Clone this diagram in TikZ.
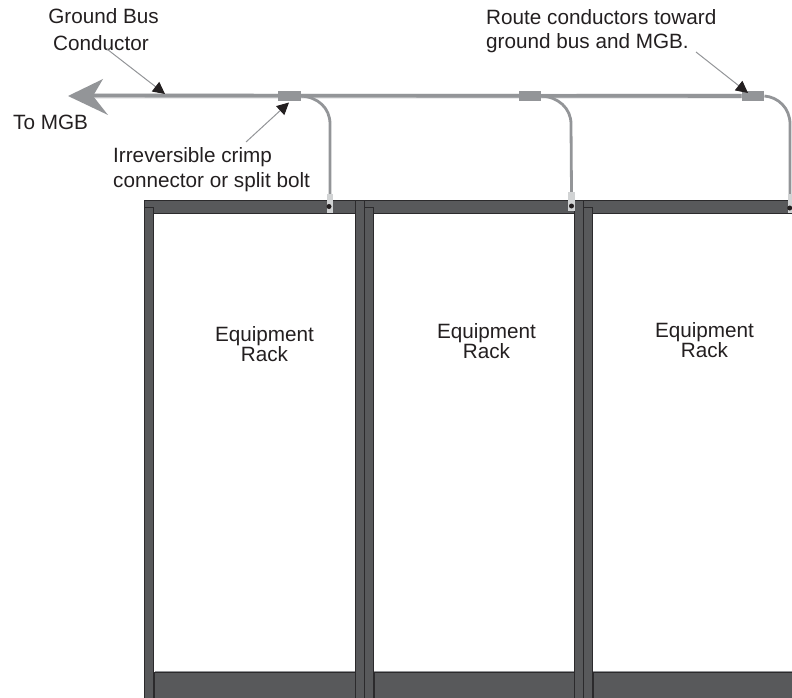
\documentclass[tikz,border=0pt]{standalone}
\usepackage{fontspec}
\setmainfont{Liberation Sans}
\usetikzlibrary{arrows.meta}
\definecolor{steel}{HTML}{58595B}
\definecolor{edge}{HTML}{2B2A2C}
\definecolor{wire}{HTML}{939598}
\definecolor{wirelight}{HTML}{C9CACC}
\definecolor{lugc}{HTML}{D1D3D4}
\definecolor{ink}{HTML}{231F20}
\tikzset{
  member/.style={draw=edge,fill=steel,line width=.7pt},
  lbl/.style={text=ink,inner sep=0pt,font=\fontsize{20.7}{24.5}\selectfont},
  rackl/.style={text=ink,inner sep=0pt,align=center,font=\fontsize{20.7}{20.5}\selectfont},
  clamp/.style={fill=wire,draw=none,minimum width=22.5pt,minimum height=10.5pt,inner sep=0pt},
  lug/.style={fill=lugc,draw=none,inner sep=0pt},
  bolt/.style={circle,fill=ink,draw=none,minimum size=5pt,inner sep=0pt},
  leader/.style={draw=wire,line width=1pt,-{Triangle[length=12pt,width=12pt,color=ink]}},
  under/.style={draw=wirelight,line width=4.6pt,line cap=butt},
  branch/.style={draw=wire,line width=2.8pt,line cap=butt}
}
\begin{document}
\begin{tikzpicture}[x=1pt,y=-1pt]
\useasboundingbox (0,0) rectangle (792,698);
% rack members
\foreach \a/\b in {144/355,364/574,583/792}{
  \draw[member] (\a,200.5) rectangle (\b,213);
}
\foreach \a/\t in {144/207,355/200.5,364/207,574/200.5,583/207}{
  \draw[member] (\a,\t) rectangle ({\a+9},698);
}
\foreach \a/\b in {154.5/355,374/574,593/792}{
  \draw[draw=edge,fill=steel,line width=.7pt] (\a,672.5) rectangle (\b,698);
  \draw[draw=wire,line width=.7pt] (\a,671.8) -- (\b,671.8);
}
% nodes on the bus
\coordinate (tip) at (68,96);
\node[clamp] (c1) at (289.5,96) {};
\node[clamp] (c2) at (530,96) {};
\node[clamp] (c3) at (753,96) {};
% lugs
\node[lug,minimum width=6pt,minimum height=19pt] (l1) at (330,203.5) {};
\node[lug,minimum width=7pt,minimum height=19pt] (l2) at (571.5,201.5) {};
\node[lug,minimum width=4pt,minimum height=19pt] (l3) at (790,203.5) {};
\node[bolt] (b1) at (329,206.5) {};
\node[bolt] (b2) at (571.5,206) {};
\node[bolt] (b3) at (789.7,208) {};
% bus
\draw[under] (90,96.2) -- (c3.west);
\draw[draw=wire,line width=3.6pt] (90,95.4) -- (c3.west);
\fill[wire] (tip) -- (103,79) -- (93,96) -- (108,115) -- cycle;
\node[clamp] at (c1) {};
\node[clamp] at (c2) {};
\node[clamp] at (c3) {};
% branches
\coordinate (s1) at (c1.east); \coordinate (s2) at (c2.east); \coordinate (s3) at (c3.east);
\draw[branch] (s1) .. controls (318,97) and (330,108) .. (330,124) -- (l1.north);
\draw[branch] (s2) .. controls (558,97) and (571,108) .. (571,124) -- (l2.north);
\draw[branch] (s3) .. controls (778,97) and (790,108) .. (790,124) -- (l3.north);
% labels
\node[lbl,align=center,anchor=base] (gb) at (103.5,23.5) {Ground Bus};
\node[lbl,anchor=base] (gc) at (101,50.7) {Conductor};
\node[lbl,anchor=base west] (mgb) at (13,129) {To MGB};
\node[lbl,align=left,anchor=north west] (ir) at (113,147.5) {Irreversible crimp\\connector or split bolt};
\node[lbl,align=left,anchor=north west] (rt) at (486,9) {Route conductors toward\\ground bus and MGB.};
\node[rackl,anchor=north] (r1) at (264.5,326) {Equipment\\Rack};
\node[rackl,anchor=north] (r2) at (486.5,323) {Equipment\\Rack};
\node[rackl,anchor=north] (r3) at (704.5,322) {Equipment\\Rack};
% leaders
\coordinate (e1) at (165,94);
\coordinate (s2b) at (246,142);
\coordinate (e2) at (289,102.5);
\coordinate (s3b) at (696,52);
\coordinate (e3) at (748,93);
\draw[leader] (gc.south) ++(6,-2) -- (e1);
\draw[leader] (s2b) -- (e2);
\draw[leader] (s3b) -- (e3);
\end{tikzpicture}
\end{document}
